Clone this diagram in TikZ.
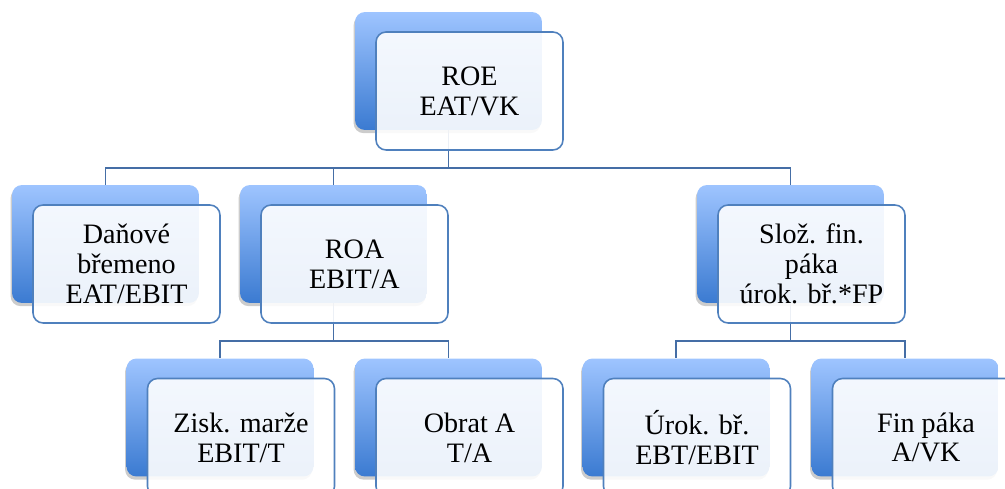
\documentclass[tikz,border=0pt]{standalone}
\usepackage{fontspec}
\setmainfont{Liberation Serif}
\usepackage{tikz}
\usetikzlibrary{positioning, backgrounds, shadows}
\definecolor{frameblue}{rgb}{0.31, 0.50, 0.74}
\definecolor{lineblue}{rgb}{0.27, 0.43, 0.65}
\definecolor{backtop}{rgb}{0.62, 0.77, 1.00}
\definecolor{backbot}{rgb}{0.23, 0.48, 0.82}

\begin{document}
\begin{tikzpicture}[
  x=0.02cm, y=-0.02cm,
  back/.style={
    rectangle, rounded corners=0.2cm,
    minimum width=3.74cm, minimum height=2.36cm,
    top color=backtop, bottom color=backbot, draw=none,
    drop shadow={shadow xshift=-0.8pt, shadow yshift=-1.8pt, opacity=0.4}
  },
  front/.style={
    rectangle, rounded corners=0.2cm,
    minimum width=3.74cm, minimum height=2.36cm,
    align=center, fill=white, fill opacity=0.9, text opacity=1,
    draw=frameblue, line width=0.9pt,
    font=\fontsize{16}{17}\selectfont
  },
  link/.style={draw=lineblue, line width=1.1pt}
]
  \useasboundingbox (0,0) rectangle (1005,489);
  \clip (0,0) rectangle (1005,489);

  % level 0
  \node[back] (roe) at (448.5,71) {};
  \node[front] (roe-t) at ([shift={(0.42cm,-0.4cm)}]roe.center) {ROE\\EAT/VK};

  % level 1
  \node[back] (dan) at (105.5,244) {};
  \node[front] (dan-t) at ([shift={(0.42cm,-0.4cm)}]dan.center) {Daňové\\břemeno\\EAT/EBIT};
  \node[back] (roa) at (333.5,244) {};
  \node[front] (roa-t) at ([shift={(0.42cm,-0.4cm)}]roa.center) {ROA\\EBIT/A};
  \node[back] (slo) at (790.5,244) {};
  \node[front] (slo-t) at ([shift={(0.42cm,-0.4cm)}]slo.center) {Slož. fin.\\páka\\úrok. bř.*FP};

  % level 2
  \node[back] (zis) at (220,417.5) {};
  \node[front] (zis-t) at ([shift={(0.42cm,-0.4cm)}]zis.center) {Zisk. marže\\EBIT/T};
  \node[back] (obr) at (448.5,417.5) {};
  \node[front] (obr-t) at ([shift={(0.42cm,-0.4cm)}]obr.center) {Obrat A\\T/A};
  \node[back] (uro) at (676,417.5) {};
  \node[front] (uro-t) at ([shift={(0.42cm,-0.4cm)}]uro.center) {Úrok. bř.\\EBT/EBIT};
  \node[back] (fin) at (905,417.5) {};
  \node[front] (fin-t) at ([shift={(0.42cm,-0.4cm)}]fin.center) {Fin páka\\A/VK};

  % connectors
  \coordinate (bus0) at ([yshift=-0.76cm]roe.south);
  \coordinate (bus1) at ([yshift=-0.76cm]roa.south);
  \coordinate (bus2) at ([yshift=-0.76cm]slo.south);
  \begin{scope}[on background layer]
    \draw[link] (roe.south) -- (bus0) -| (dan.north);
    \draw[link] (bus0) -| (roa.north);
    \draw[link] (bus0) -| (slo.north);
    \draw[link] (roa.south) -- (bus1) -| (zis.north);
    \draw[link] (bus1) -| (obr.north);
    \draw[link] (slo.south) -- (bus2) -| (uro.north);
    \draw[link] (bus2) -| (fin.north);
  \end{scope}
\end{tikzpicture}
\end{document}
